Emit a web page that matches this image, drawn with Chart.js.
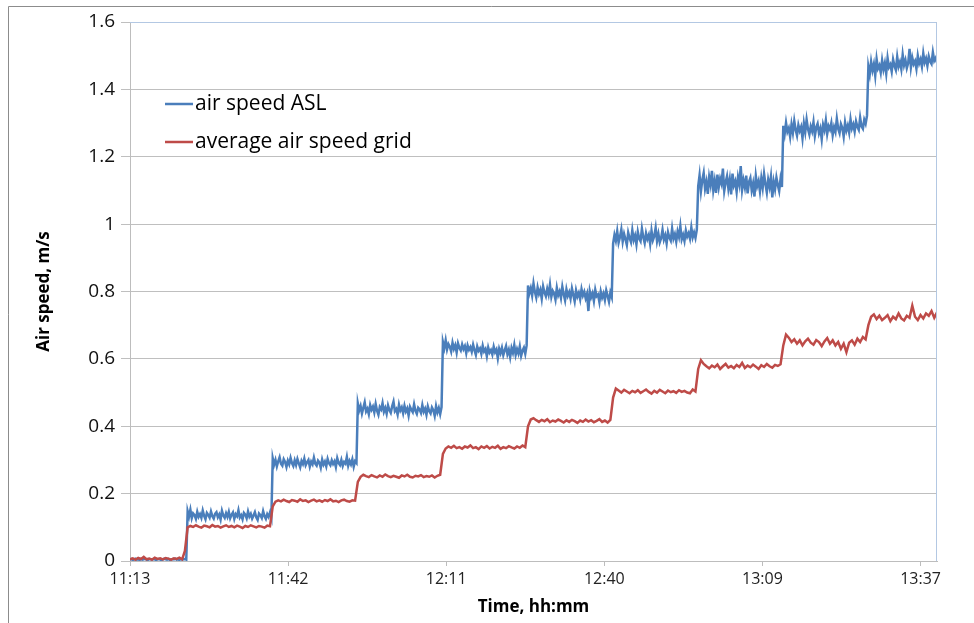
<!DOCTYPE html>
<html>
<head>
<meta charset="utf-8">
<script src="https://cdn.jsdelivr.net/npm/chart.js@4.4.0/dist/chart.umd.min.js"></script>
<style>
  html, body { margin: 0; padding: 0; background: #fff; }
  #wrap { width: 974px; height: 623px; position: relative; }
</style>
</head>
<body>
<div id="wrap"><canvas id="speedChart"></canvas></div>
<script>
// x axis: minutes after 11:13
const aslStepMinutes = 0.25;   // ASL sampled every quarter minute
const gridStepMinutes = 0.5;   // grid average every half minute
const tickMinutes = [0, 28.8, 57.6, 86.4, 115.2, 144];
const tickLabels = ['11:13', '11:42', '12:11', '12:40', '13:09', '13:37'];
const yTicks = [0, 0.2, 0.4, 0.6, 0.8, 1, 1.2, 1.4, 1.6];

// air speed ASL, m/s (step by step)
const airSpeedASL = [
  0.004,0.006,0.003,0.005,0.007,0.004,0.005,0.003,0.006,0.004,0.005,0.007,0.004,0.003,0.006,0.005,0.004,0.006,0.005,0.003,0.005,
  0.006,0.004,0.003,0.005,0.007,0.005,0.004,0.006,0.003,0.004,0.006,0.005,0.007,0.004,0.005,0.003,0.006,0.004,0.005,0.006,0.004,
  // 0.13
  0.148,0.132,0.152,0.127,0.141,0.136,0.125,0.146,0.131,0.139,0.128,0.150,0.134,0.124,0.143,0.137,0.129,0.147,0.133,0.126,
  0.140,0.145,0.130,0.138,0.123,0.149,0.135,0.128,0.142,0.131,0.146,0.127,0.137,0.144,0.125,0.139,0.133,0.151,0.129,0.136,
  0.124,0.143,0.138,0.127,0.147,0.132,0.140,0.126,0.135,0.145,0.130,0.122,0.141,0.136,0.128,0.148,0.133,0.125,0.139,0.131,
  0.144,0.129,
  // 0.29
  0.305,0.286,0.300,0.281,0.296,0.308,0.289,0.283,0.302,0.294,0.279,0.298,0.287,0.306,0.291,0.282,0.299,0.285,0.303,0.290,
  0.278,0.297,0.288,0.304,0.284,0.293,0.300,0.280,0.295,0.287,0.307,0.289,0.283,0.298,0.292,0.277,0.301,0.286,0.295,0.281,
  0.303,0.290,0.284,0.299,0.288,0.296,0.279,0.305,0.291,0.285,0.300,0.282,0.294,0.289,0.309,0.283,0.297,0.287,0.302,0.280,
  0.296,0.291,
  // 0.45
  0.468,0.447,0.460,0.438,0.455,0.471,0.444,0.452,0.436,0.463,0.449,0.458,0.441,0.466,0.446,0.434,0.457,0.450,0.469,0.443,
  0.454,0.437,0.462,0.448,0.440,0.459,0.473,0.445,0.451,0.435,0.464,0.447,0.456,0.439,0.461,0.444,0.453,0.432,0.458,0.449,
  0.442,0.465,0.446,0.437,0.455,0.450,0.440,0.463,0.443,0.452,0.434,0.459,0.445,0.438,0.456,0.448,0.431,0.460,0.441,0.454,
  0.436,0.457,
  // 0.63
  0.650,0.632,0.655,0.628,0.644,0.636,0.622,0.648,0.630,0.641,0.619,0.646,0.633,0.625,0.643,0.629,0.638,0.617,0.640,0.627,
  0.635,0.621,0.642,0.626,0.612,0.637,0.624,0.631,0.615,0.639,0.622,0.629,0.608,0.634,0.619,0.626,0.613,0.636,0.620,0.628,
  0.602,0.630,0.617,0.633,0.611,0.625,0.638,0.614,0.627,0.605,0.632,0.618,0.641,0.612,0.629,0.616,0.637,0.609,0.624,0.633,
  0.615,0.640,
  // 0.79
  0.818,0.795,0.810,0.788,0.824,0.799,0.782,0.812,0.793,0.805,0.779,0.815,0.797,0.786,0.808,0.791,0.820,0.784,0.802,0.794,
  0.776,0.811,0.789,0.800,0.781,0.814,0.792,0.774,0.806,0.787,0.798,0.779,0.809,0.790,0.771,0.803,0.785,0.796,0.777,0.807,
  0.788,0.799,0.780,0.793,0.742,0.801,0.783,0.795,0.772,0.805,0.786,0.791,0.769,0.800,0.782,0.794,0.775,0.803,0.787,0.770,
  0.797,0.784,
  // 0.96
  0.942,0.968,0.951,0.979,0.945,0.962,0.984,0.948,0.971,0.955,0.938,0.975,0.959,0.947,0.982,0.953,0.966,0.940,0.977,0.957,
  0.949,0.986,0.961,0.944,0.973,0.956,0.968,0.941,0.980,0.952,0.964,0.989,0.950,0.971,0.946,0.958,0.983,0.954,0.967,0.943,
  0.976,0.960,0.951,0.987,0.957,0.970,0.948,0.978,0.962,0.994,0.955,0.968,0.950,0.981,0.963,0.973,0.957,0.990,0.961,0.975,
  0.959,0.984,
  // 1.12
  1.112,1.145,1.098,1.131,1.152,1.105,1.126,1.090,1.140,1.117,1.158,1.101,1.128,1.093,1.147,1.110,1.135,1.120,1.165,1.099,
  1.124,1.142,1.106,1.133,1.088,1.150,1.115,1.127,1.096,1.139,1.118,1.172,1.102,1.130,1.109,1.144,1.091,1.125,1.137,1.100,
  1.121,1.082,1.143,1.113,1.128,1.097,1.136,1.108,1.149,1.119,1.094,1.132,1.111,1.141,1.079,1.126,1.104,1.138,1.116,1.098,
  1.134,1.110,
  // 1.28
  1.292,1.268,1.301,1.274,1.285,1.259,1.296,1.271,1.306,1.280,1.263,1.294,1.277,1.289,1.255,1.299,1.273,1.310,1.282,1.266,
  1.290,1.276,1.303,1.262,1.287,1.298,1.270,1.284,1.252,1.295,1.279,1.308,1.268,1.291,1.281,1.300,1.264,1.288,1.274,1.313,
  1.283,1.270,1.297,1.286,1.260,1.302,1.278,1.293,1.272,1.311,1.284,1.296,1.275,1.305,1.289,1.280,1.316,1.290,1.283,1.310,
  1.298,1.322,
  // 1.47
  1.468,1.445,1.482,1.456,1.475,1.441,1.490,1.462,1.471,1.450,1.486,1.459,1.478,1.447,1.493,1.466,1.474,1.453,1.489,1.470,
  1.458,1.497,1.468,1.481,1.460,1.503,1.472,1.487,1.463,1.478,1.520,1.466,1.494,1.475,1.484,1.461,1.500,1.477,1.489,1.468,
  1.507,1.480,1.492,1.470,1.498,1.483,1.476,1.510,1.485,1.493,1.479
];

// average air speed grid, m/s
const avgAirSpeedGrid = [
  0.005,0.008,0.004,0.009,0.006,0.012,0.005,0.007,0.004,0.010,0.006,0.008,0.005,0.009,0.007,0.004,0.008,0.006,0.010,0.005,0.030,
  0.100,0.104,0.101,0.106,0.102,0.099,0.105,0.103,0.100,0.107,0.102,0.104,0.099,0.103,0.106,0.101,0.104,0.100,0.105,0.102,0.098,0.104,0.101,0.106,0.103,0.100,0.104,0.102,0.099,0.105,0.103,
  0.162,0.176,0.180,0.177,0.182,0.178,0.175,0.181,0.179,0.176,0.183,0.178,0.180,0.175,0.179,0.182,0.177,0.180,0.176,0.181,0.178,0.183,0.177,0.179,0.175,0.180,0.182,0.178,0.176,0.180,0.179,
  0.235,0.250,0.256,0.252,0.249,0.255,0.251,0.248,0.254,0.250,0.257,0.252,0.249,0.253,0.250,0.247,0.254,0.251,0.256,0.250,0.248,0.253,0.251,0.255,0.249,0.252,0.250,0.254,0.248,0.253,0.256,
  0.318,0.334,0.340,0.336,0.342,0.335,0.338,0.333,0.340,0.337,0.343,0.335,0.338,0.332,0.340,0.336,0.341,0.334,0.339,0.336,0.342,0.333,0.338,0.335,0.341,0.337,0.334,0.340,0.336,0.343,0.338,
  0.400,0.420,0.424,0.418,0.413,0.419,0.415,0.421,0.412,0.417,0.414,0.420,0.416,0.411,0.418,0.413,0.419,0.415,0.410,0.417,0.413,0.420,0.414,0.418,0.412,0.416,0.421,0.413,0.417,0.411,0.419,
  0.485,0.512,0.506,0.500,0.508,0.503,0.498,0.505,0.501,0.507,0.499,0.504,0.509,0.502,0.497,0.505,0.500,0.508,0.503,0.498,0.506,0.501,0.504,0.499,0.507,0.502,0.505,0.500,0.498,0.509,0.503,
  0.570,0.596,0.585,0.578,0.572,0.580,0.575,0.583,0.570,0.578,0.585,0.574,0.579,0.572,0.582,0.576,0.588,0.573,0.580,0.575,0.583,0.577,0.570,0.581,0.576,0.585,0.578,0.574,0.582,0.579,0.584,
  0.640,0.672,0.663,0.650,0.658,0.645,0.655,0.640,0.652,0.660,0.648,0.642,0.656,0.650,0.638,0.652,0.662,0.645,0.655,0.640,0.650,0.630,0.645,0.620,0.648,0.655,0.642,0.660,0.650,0.665,0.658,
  0.700,0.725,0.732,0.718,0.728,0.715,0.722,0.730,0.712,0.725,0.718,0.735,0.720,0.714,0.728,0.722,0.758,0.725,0.715,0.730,0.720,0.735,0.728,0.742,0.722,0.738
];

const BLUE = '#4a7ebb';
const RED = '#be4b48';
const FONT = "'Open Sans', sans-serif";

const toPoints = (arr, step) => arr.map((v, i) => ({ x: i * step, y: v }));

// chart frame + plot border + in-plot legend (Excel style)
const excelFrame = {
  id: 'excelFrame',
  beforeDraw(chart) {
    const c = chart.ctx;
    c.save();
    c.fillStyle = '#fff';
    c.fillRect(0, 0, chart.width, chart.height);
    c.strokeStyle = '#8c8c8c';
    c.lineWidth = 1;
    c.beginPath();
    c.moveTo(8.5, chart.height);
    c.lineTo(8.5, 6.5);
    c.lineTo(chart.width, 6.5);
    c.stroke();
    c.restore();
  },
  afterDraw(chart) {
    const c = chart.ctx;
    const a = chart.chartArea;
    c.save();
    c.strokeStyle = '#b3c8e3';
    c.lineWidth = 1;
    c.beginPath();
    c.moveTo(a.left, a.top + 0.5);
    c.lineTo(a.right - 0.5, a.top + 0.5);
    c.lineTo(a.right - 0.5, a.bottom);
    c.stroke();

    // legend
    const items = chart.data.datasets.slice().sort((p, q) => p.legendRank - q.legendRank);
    c.font = "21px " + FONT;
    c.textBaseline = 'middle';
    items.forEach((ds, k) => {
      const y = 104 + k * 38;
      c.strokeStyle = ds.borderColor;
      c.lineWidth = 2.5;
      c.beginPath();
      c.moveTo(165, y);
      c.lineTo(193, y);
      c.stroke();
      c.fillStyle = '#000';
      c.fillText(ds.label, 195, y);
    });
    c.restore();
  }
};

new Chart(document.getElementById('speedChart'), {
  type: 'line',
  data: {
    datasets: [
      {
        label: 'air speed ASL',
        data: toPoints(airSpeedASL, aslStepMinutes),
        borderColor: BLUE,
        borderWidth: 2.5,
        order: 2,
        legendRank: 0
      },
      {
        label: 'average air speed grid',
        data: toPoints(avgAirSpeedGrid, gridStepMinutes),
        borderColor: RED,
        borderWidth: 2.5,
        order: 1,
        legendRank: 1
      }
    ]
  },
  options: {
    responsive: true,
    maintainAspectRatio: false,
    animation: false,
    events: [],
    layout: { padding: { top: 22, right: 37, left: 0, bottom: 0 } },
    elements: { point: { radius: 0 }, line: { tension: 0 } },
    plugins: { legend: { display: false }, tooltip: { enabled: false } },
    scales: {
      x: {
        type: 'linear',
        min: 0,
        max: 147,
        afterBuildTicks: s => { s.ticks = tickMinutes.map(v => ({ value: v })); },
        afterFit: s => { s.height = 62; },
        ticks: {
          autoSkip: false,
          maxRotation: 0,
          padding: 4,
          color: '#222',
          font: { family: FONT, size: 16 },
          callback: (v, i) => tickLabels[i]
        },
        grid: { drawOnChartArea: false, tickLength: 5, color: '#bdbdbd' },
        border: { color: '#bdbdbd' },
        title: {
          display: true,
          text: 'Time, hh:mm',
          color: '#000',
          font: { family: FONT, size: 17, weight: 'bold' },
          padding: { top: 0, bottom: 6 }
        }
      },
      y: {
        min: 0,
        max: 1.6,
        afterBuildTicks: s => { s.ticks = yTicks.map(v => ({ value: v })); },
        afterFit: s => { s.width = 130; },
        ticks: {
          padding: 6,
          color: '#111',
          font: { family: FONT, size: 19 },
          callback: v => String(v)
        },
        grid: { color: '#bfbfbf', tickLength: 9 },
        border: { color: '#bdbdbd' },
        title: {
          display: true,
          text: 'Air speed, m/s',
          color: '#000',
          font: { family: FONT, size: 17, weight: 'bold' },
          padding: { top: 34, bottom: 0 }
        }
      }
    }
  },
  plugins: [excelFrame]
});
</script>
</body>
</html>
